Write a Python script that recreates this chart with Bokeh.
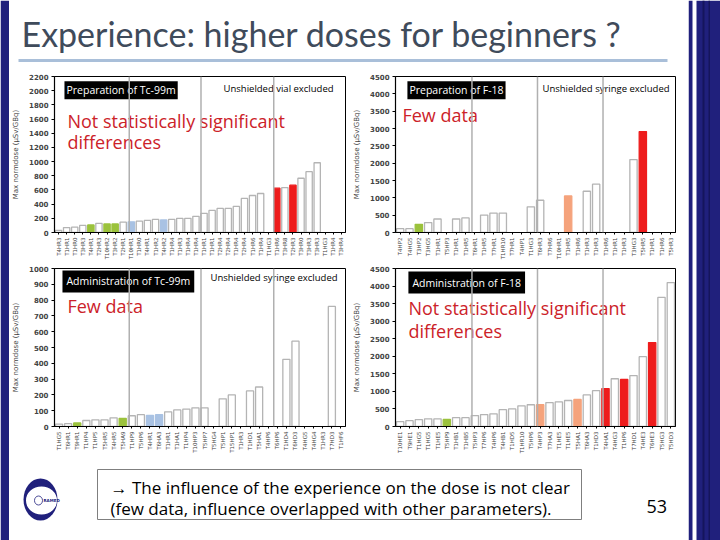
import math
from bokeh.plotting import figure
from bokeh.layouts import row, column
from bokeh.models import Range1d, FixedTicker, Span, Label, ColumnDataSource
from bokeh.embed import file_html
from bokeh.resources import INLINE
from bokeh.core.properties import value

# ---------------- data ----------------
TITLE = "Experience: higher doses for beginners ?"
YLABEL = "Max normdose (µSv/GBq)"

c1_labels = ["T4HR3", "T1HR1", "T1HR0", "T3HR3", "T4HR1", "T2HR3", "T10HR2", "T3HR2", "T2HR1",
             "T10HR1", "T1HR0", "T4HR1", "T1HR2", "T4HR2", "T1HR4", "T1HR3", "T1HR4", "T1HR4",
             "T1HR1", "T1HR1", "T2HR4", "T2HR4", "T1HR4", "T2HR4", "T1HR6", "T1HR4", "T1HG3",
             "T1HR6", "T3HR8", "T2HR3", "T3HR0", "T3HR3", "T3HR3", "T1HG3", "T1HR4", "T3HR4"]
c1_values = [30, 70, 75, 100, 107, 130, 121, 121, 145,
             150, 160, 172, 186, 177, 186, 200, 200, 228,
             270, 312, 340, 340, 368, 480, 522, 550, 0,
             625, 634, 667, 765, 858, 984, 0, 0, 0]
c1_group = ["n", "n", "n", "n", "g", "n", "g", "g", "n",
            "b", "n", "n", "n", "b", "n", "n", "n", "n",
            "n", "n", "n", "n", "n", "n", "n", "n", "n",
            "r", "n", "r", "n", "n", "n", "n", "n", "n"]

c2_labels = ["T4HP2", "T4HG5", "T3HP2", "T3HG5", "T1HR1", "T5HP3", "T1HR1", "T1HR5", "T6HR1",
             "T1HR5", "T7HR1", "T1HR10", "T7HR1", "T4HP1", "T1HG3", "T6HR3", "T7HR6", "T10HR1",
             "T1HR5", "T1HR6", "T1HR3", "T1HR3", "T1HR6", "T1HR1", "T1HR3", "T3HG3", "T5HR5",
             "T1HR1", "T1HR6", "T5HR3"]
c2_values = [110, 110, 237, 285, 390, 0, 390, 420, 0,
             503, 560, 560, 0, 0, 740, 930, 0, 0,
             1054, 0, 1190, 1395, 0, 0, 0, 2105, 2910,
             0, 0, 0]
c2_group = ["n", "n", "g", "n", "n", "n", "n", "n", "n",
            "n", "n", "n", "n", "n", "n", "n", "n", "n",
            "o", "n", "n", "n", "n", "n", "n", "n", "r",
            "n", "n", "n"]

c3_labels = ["T1HG5", "T6HR1", "T9HR1", "T1HP4", "T1HP5", "T5HR5", "T4HR5", "T5HA9", "T1HP9",
             "T5HP6", "T4HR1", "T6HA3", "T1HR1", "T1HA1", "T1HP4", "T10HP3", "T5HP7", "T5HG4",
             "T5HP1", "T15HP1", "T1HR3", "T1HD1", "T5HA1", "T4HP6", "T6HP6", "T1HD4", "T6HD3",
             "T4HG5", "T4HG4", "T1HR3", "T7HD3", "T1HF6"]
c3_values = [15, 18, 22, 38, 42, 42, 55, 52, 68,
             75, 70, 75, 93, 105, 110, 118, 118, 0,
             175, 200, 0, 225, 250, 0, 0, 425, 540,
             0, 0, 0, 760, 0]
c3_group = ["n", "n", "g", "n", "n", "n", "n", "g", "n",
            "n", "b", "b", "n", "n", "n", "n", "n", "n",
            "n", "n", "n", "n", "n", "n", "n", "n", "n",
            "n", "n", "n", "n", "n"]

c4_labels = ["T10HE1", "T9HE1", "T1HG5", "T1HG5", "T1HE5", "T5HP9", "T1HB1", "T1HB5", "T5HP3",
             "T7HP6", "T4HP6", "T4HB1", "T1HD5", "T1HR10", "T5HP6", "T4HP3", "T7HA3", "T1HE5",
             "T1HE5", "T5HA1", "T6HA3", "T1HD3", "T4HA1", "T4HG3", "T1HP6", "T7HD1", "T4HE3",
             "T6HE3", "T5HG3", "T5HD3"]
c4_values = [140, 165, 195, 220, 220, 200, 250, 250, 310,
             340, 360, 480, 500, 590, 620, 620, 680, 700,
             740, 770, 900, 1020, 1080, 1360, 1340, 1450, 1990,
             2390, 3680, 4100]
c4_group = ["n", "n", "n", "n", "n", "g", "n", "n", "n",
            "n", "n", "n", "n", "n", "n", "o", "n", "n",
            "n", "o", "n", "n", "r", "n", "r", "n", "n",
            "r", "n", "n"]

FOOT1 = "\u2192 The influence of the experience on the dose is not clear"
FOOT2 = "(few data, influence overlapped with other parameters)."
PAGE_NO = "53"

# ---------------- styles ----------------
FILL = {"n": "white", "g": "#9bc23c", "b": "#a9c2e3", "r": "#ee1c1c", "o": "#f5a37c"}
EDGE = {"n": "#b4b4b4", "g": "#9bc23c", "b": "#a9c2e3", "r": "#ee1c1c", "o": "#f5a37c"}
RED = "#cc2229"
NAVY = "#20207c"
FONT = "Open Sans"


def make_chart(labels, vals, groups, ymax, ystep, page_left, page_top, w, h, borders,
               header, header_pad, note, red_lines, seps):
    bl, br, bt, bb = borders
    n = len(labels)
    fl, fr = page_left + bl, page_left + w - br
    ft, fb = page_top + bt, page_top + h - bb

    def dx(px):
        return 0.5 + (px - fl) / (fr - fl) * n

    def dy(py):
        return ymax * (fb - py) / (fb - ft)

    p = figure(width=w, height=h, x_range=Range1d(0.5, n + 0.5), y_range=Range1d(0, ymax),
               output_backend="svg", toolbar_location=None,
               min_border_left=bl, min_border_right=br, min_border_top=bt, min_border_bottom=bb)
    p.xgrid.visible = False
    p.ygrid.visible = False
    p.outline_line_color = "black"
    p.outline_line_width = 1
    p.background_fill_color = "white"
    p.border_fill_color = "white"

    p.yaxis.ticker = FixedTicker(ticks=list(range(0, ymax + 1, ystep)))
    p.yaxis.axis_label = YLABEL
    p.yaxis.axis_label_text_font = "DejaVu Sans"
    p.yaxis.axis_label_text_font_size = "7px"
    p.yaxis.axis_label_text_font_style = "normal"
    p.yaxis.axis_label_standoff = 6
    p.yaxis.major_label_text_font = "DejaVu Sans"
    p.yaxis.major_label_text_font_size = "7px"
    p.yaxis.major_label_text_font_style = "bold"
    p.yaxis.major_label_standoff = 3
    p.yaxis.minor_tick_line_color = None
    p.yaxis.major_tick_out = 3
    p.yaxis.major_tick_in = 0
    p.yaxis.axis_line_width = 1.2

    p.xaxis.ticker = FixedTicker(ticks=list(range(1, n + 1)))
    p.xaxis.major_label_overrides = {i + 1: lab for i, lab in enumerate(labels)}
    p.xaxis.major_label_orientation = math.pi / 2
    p.xaxis.major_label_text_font = "DejaVu Sans"
    p.xaxis.major_label_text_font_size = "5.5px"
    p.xaxis.major_label_standoff = 3
    p.xaxis.major_tick_out = 2
    p.xaxis.major_tick_in = 0
    p.xaxis.minor_tick_line_color = None
    p.xaxis.axis_line_width = 1.2

    xs, tops, fills, edges = [], [], [], []
    for i, (v, g) in enumerate(zip(vals, groups)):
        if v > 0:
            xs.append(i + 1)
            tops.append(v)
            fills.append(FILL[g])
            edges.append(EDGE[g])
    src = ColumnDataSource(dict(x=xs, top=tops, fill=fills, edge=edges))
    p.vbar(x="x", top="top", width=0.78, source=src, fill_color="fill",
           line_color="edge", line_width=1.3)

    htext, hx, hy, hsize = header
    p.add_layout(Label(x=dx(hx), y=dy(hy), text=htext, text_color="white",
                       text_font=FONT, text_font_size=hsize, text_baseline="middle",
                       text_align="left", background_fill_color="black", padding=header_pad))
    if note is not None:
        ntext, nx, ny = note
        p.add_layout(Label(x=dx(nx), y=dy(ny), text=ntext, text_color="black",
                           text_font=FONT, text_font_size="9.5px", text_baseline="middle",
                           text_align="right"))
    for (t, rx, ry) in red_lines:
        p.add_layout(Label(x=dx(rx), y=dy(ry), text=t, text_color=RED,
                           text_font=FONT, text_font_size="18px", text_baseline="middle",
                           text_align="left"))
    for sx in seps:
        p.add_layout(Span(location=dx(sx), dimension="height", line_color="#b0b0b0",
                          line_width=1.5))
    return p


SEP_L = [128, 200, 273]
SEP_R = [470, 536, 602]

f1 = make_chart(c1_labels, c1_values, c1_group, 2200, 200, 9, 66, 341, 196, (44, 5, 10, 28),
                ("Preparation of Tc-99m", 63, 90, "10.5px"), 2,
                ("Unshielded vial excluded", 333, 88),
                [("Not statistically significant", 66, 121), ("differences", 66, 142)], SEP_L)
f2 = make_chart(c2_labels, c2_values, c2_group, 4500, 500, 350, 66, 338, 196, (43, 13, 10, 28),
                ("Preparation of F-18", 405, 90, "10.5px"), 2,
                ("Unshielded syringe excluded", 669, 88),
                [("Few data", 400, 115)], SEP_R)
f3 = make_chart(c3_labels, c3_values, c3_group, 1000, 100, 9, 262, 341, 200, (44, 5, 6, 35),
                ("Administration of Tc-99m", 61, 281, "10.5px"), 4,
                ("Unshielded syringe excluded", 337, 277),
                [("Few data", 66, 306)], SEP_L)
f4 = make_chart(c4_labels, c4_values, c4_group, 4500, 500, 350, 262, 338, 200, (43, 13, 6, 36),
                ("Administration of F-18", 406, 282, "10.5px"), 4,
                None,
                [("Not statistically significant", 406, 307), ("differences", 406, 330)], SEP_R)


def deco_fig(w, h, x0, x1, y_bottom, y_top):
    d = figure(width=w, height=h, x_range=Range1d(x0, x1), y_range=Range1d(y_bottom, y_top),
               output_backend="svg", toolbar_location=None, min_border=0,
               x_axis_location=None, y_axis_location=None)
    d.xgrid.visible = False
    d.ygrid.visible = False
    d.outline_line_color = None
    return d


# title (page coordinates, y downward)
tf = deco_fig(679, 66, 9, 688, 66, 0)
tf.text(x=[21], y=[33], text=[TITLE], text_font=value("Lato"), text_font_size="34px",
        text_color="#3f4b5b", text_baseline="middle", text_align="left")
tf.segment(x0=[18], y0=[60], x1=[667], y1=[60], line_color="#a9bfd9", line_width=3)

# footer
ff = deco_fig(679, 78, 9, 688, 540, 462)
ff.quad(left=[97], right=[581], top=[469], bottom=[519], fill_color="white",
        line_color="#7f7f7f", line_width=1)
ff.text(x=[110, 110], y=[487, 508], text=[FOOT1, FOOT2], text_font=value(FONT),
        text_font_size="17px", text_color="black", text_baseline="middle", text_align="left")
ff.text(x=[646], y=[506], text=[PAGE_NO], text_font=value(FONT), text_font_size="18px",
        text_color="black", text_baseline="middle", text_align="left")
ff.ellipse(x=[40], y=[499], width=[34], height=[42], fill_color=NAVY, line_color=None)
ff.ellipse(x=[41], y=[500], width=[31], height=[28], fill_color="white", line_color=None)
ff.ellipse(x=[38], y=[500], width=[8], height=[9], fill_color=None, line_color=NAVY,
           line_width=0.8)
ff.text(x=[43], y=[500], text=["RAMED"], text_font=value("DejaVu Sans"), text_font_size="4px",
        text_font_style="bold", text_color=NAVY, text_baseline="middle", text_align="left")

# left navy bar
ld = deco_fig(9, 540, 0, 9, 540, 0)
ld.quad(left=[0], right=[9], top=[0], bottom=[540], fill_color=NAVY, line_color=None)

# right decoration
rd = deco_fig(32, 540, 688, 720, 540, 0)
rd.quad(left=[688, 696], right=[692, 720], top=[0, 0], bottom=[540, 540],
        fill_color=NAVY, line_color=None)
rd.quad(left=[702, 708], right=[704, 709.5], top=[0, 0], bottom=[540, 540],
        fill_color="#15155c", line_color=None)

layout = row(ld, column(tf, row(f1, f2), row(f3, f4), ff), rd)

open("out.html", "w").write(file_html(layout, INLINE))
